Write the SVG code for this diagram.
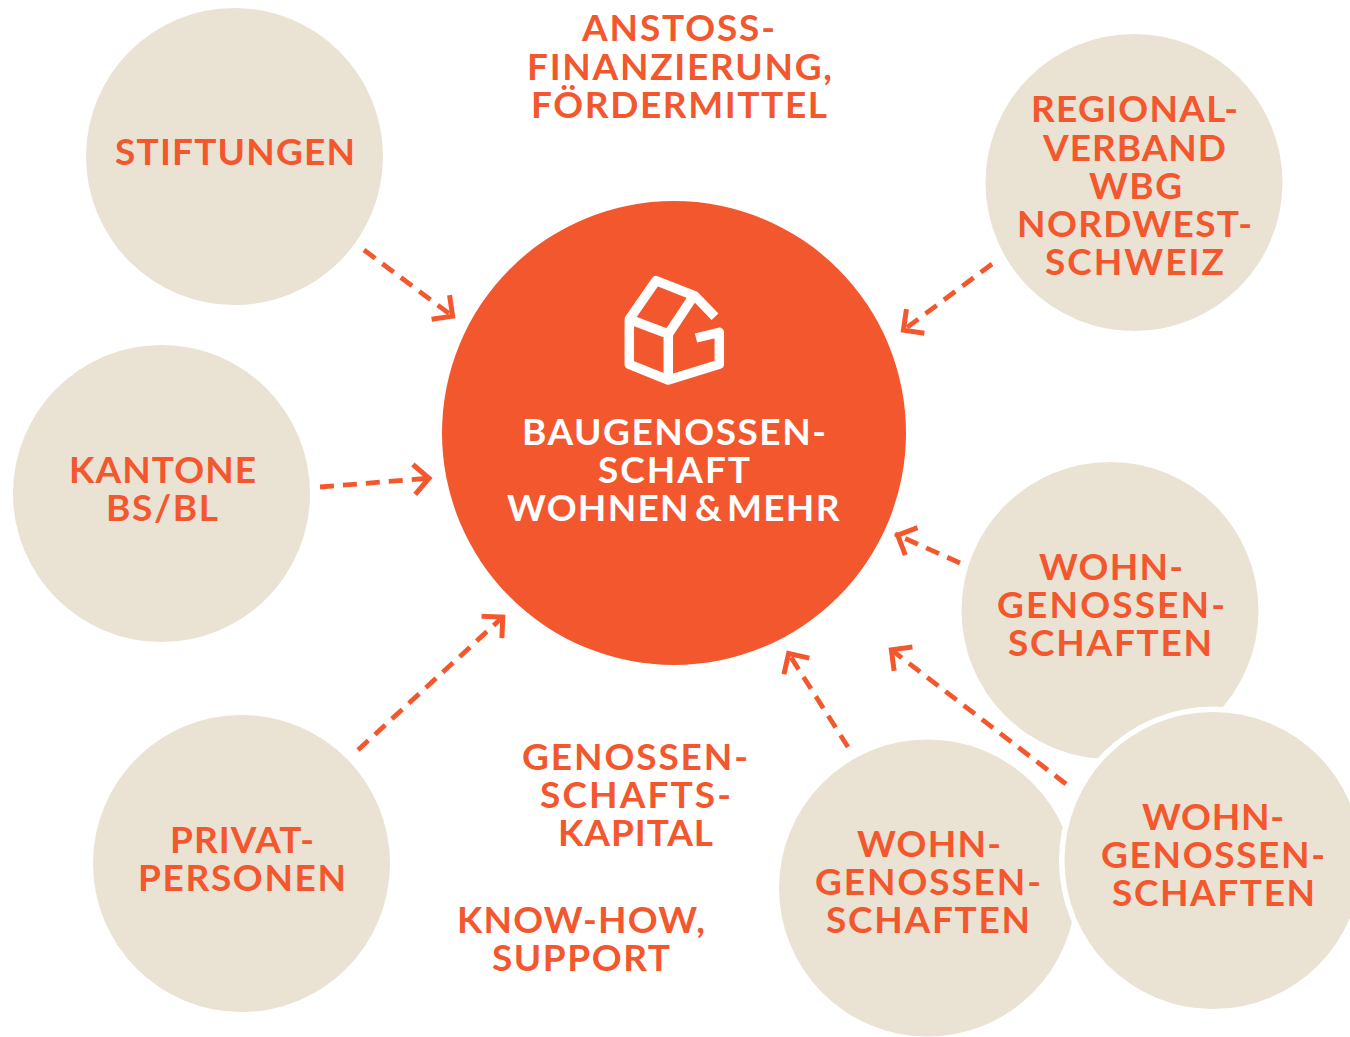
<svg xmlns="http://www.w3.org/2000/svg" width="1350" height="1037" viewBox="0 0 1350 1037">
<defs>
<style>
.c{fill:#EAE2D3}
.t{font-family:"Lato","Liberation Sans",sans-serif;font-size:37px;font-weight:700;fill:#F3572E}
.w{fill:#fff}
.l{fill:none;stroke:#F3572E;stroke-width:4.8;stroke-dasharray:14 9}
</style>
<marker id="a" markerUnits="userSpaceOnUse" markerWidth="40" markerHeight="40" refX="30" refY="20" orient="auto" overflow="visible">
<path d="M12 5 L27 20 L12 35" fill="none" stroke="#F3572E" stroke-width="5" stroke-dasharray="none" stroke-linejoin="miter"/>
</marker>
</defs>
<rect width="1350" height="1037" fill="#fff"/>
<g id="stiftungen"><circle class="c" cx="234.5" cy="156.5" r="148.5"/><text class="t" x="115" y="165" textLength="240">STIFTUNGEN</text></g>
<g id="regionalverband"><circle class="c" cx="1134" cy="182.5" r="148.5"/>
<text class="t" x="1031" y="122" textLength="207">REGIONAL-</text><text class="t" x="1043" y="161" textLength="183">VERBAND</text><text class="t" x="1089" y="199" textLength="93">WBG</text><text class="t" x="1017" y="237" textLength="235">NORDWEST-</text><text class="t" x="1045" y="275" textLength="179">SCHWEIZ</text></g>
<g id="kantone"><circle class="c" cx="161.5" cy="493.5" r="148.5"/><text class="t" x="69" y="483" textLength="187">KANTONE</text><text class="t" x="106" y="521" textLength="112">BS/BL</text></g>
<g id="privatpersonen"><circle class="c" cx="241.5" cy="863.5" r="148.5"/><text class="t" x="170" y="853" textLength="144">PRIVAT-</text><text class="t" x="138" y="891" textLength="208">PERSONEN</text></g>
<g id="wohngenossenschaften-1"><circle class="c" cx="1110" cy="610.5" r="148.5"/><text class="t" x="1039" y="580" textLength="144">WOHN-</text><text class="t" x="997" y="618" textLength="228">GENOSSEN-</text><text class="t" x="1008" y="656" textLength="204">SCHAFTEN</text></g>
<g id="wohngenossenschaften-2"><circle class="c" cx="927.5" cy="888" r="148.5"/><text class="t" x="857" y="857" textLength="144">WOHN-</text><text class="t" x="815" y="895" textLength="226">GENOSSEN-</text><text class="t" x="826" y="933" textLength="204">SCHAFTEN</text></g>
<g id="wohngenossenschaften-3"><circle cx="1213" cy="860.5" r="154" fill="#fff"/><circle class="c" cx="1213" cy="860.5" r="148.5"/><text class="t" x="1142" y="830" textLength="142">WOHN-</text><text class="t" x="1101" y="868" textLength="224">GENOSSEN-</text><text class="t" x="1112" y="906" textLength="203">SCHAFTEN</text></g>
<g id="center"><circle cx="674" cy="433" r="232" fill="#F3572E"/>
<g fill="none" stroke="#fff" stroke-width="9.5" stroke-linejoin="round" stroke-linecap="butt">
<path d="M629.3 319.3V364.3L668.3 380L719.3 364.3V332.3L696 338M668.3 380V334L629.3 319.3L656 280.7L695 296L715 316.7M668.3 334L692.7 297.3"/>
</g>
<text class="t w" x="522" y="445" textLength="304">BAUGENOSSEN-</text><text class="t w" x="598" y="483" textLength="152">SCHAFT</text><text class="t w" y="521" letter-spacing="1.3"><tspan x="507">WOHNEN</tspan><tspan x="695">&amp;</tspan><tspan x="727">MEHR</tspan></text></g>
<g id="labels">
<text class="t" x="582" y="41" textLength="193">ANSTOSS-</text><text class="t" x="527" y="80" textLength="305">FINANZIERUNG,</text><text class="t" x="531" y="118" textLength="296">FÖRDERMITTEL</text>
<text class="t" x="522" y="770" textLength="226">GENOSSEN-</text><text class="t" x="540" y="808" textLength="191">SCHAFTS-</text><text class="t" x="558" y="846" textLength="155">KAPITAL</text>
<text class="t" x="457" y="933" textLength="248">KNOW-HOW,</text><text class="t" x="492" y="971" textLength="178">SUPPORT</text>
</g>
<g id="connectors">
<path class="l" marker-end="url(#a)" d="M364 250L455 318"/>
<path class="l" marker-end="url(#a)" d="M320 487L432 478"/>
<path class="l" marker-end="url(#a)" d="M358 750L505 615"/>
<path class="l" marker-end="url(#a)" d="M848 747L787 651"/>
<path class="l" marker-end="url(#a)" d="M1066 784L889 648"/>
<path class="l" marker-end="url(#a)" d="M960 563L895 534"/>
<path class="l" marker-end="url(#a)" d="M992 264L901 332"/>
</g>
</svg>
